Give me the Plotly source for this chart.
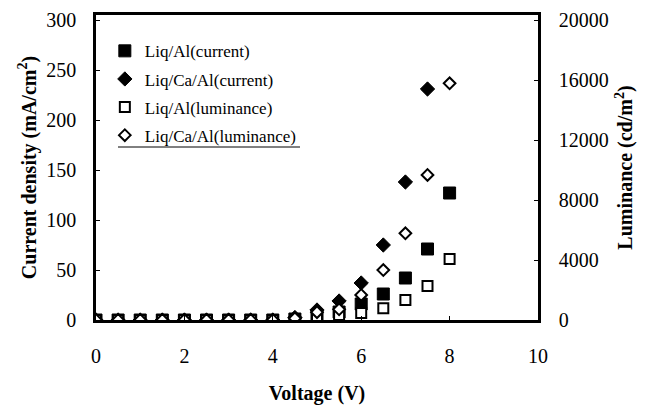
import plotly.graph_objects as go

voltage = [0, 0.5, 1, 1.5, 2, 2.5, 3, 3.5, 4, 4.5, 5, 5.5, 6, 6.5, 7, 7.5, 8]
liq_al_current = [0, 0, 0, 0, 0, 0, 0, 0, 0, 1, 4, 8, 16, 26, 42, 71, 127]
liq_ca_al_current = [0, 0, 0, 0, 0, 0, 0, 0, 0, 2.5, 10, 19, 37, 75, 138, 231]
liq_al_lum = [0, 0, 0, 0, 0, 0, 0, 0, 0, 30, 220, 330, 460, 780, 1330, 2270, 4070]
liq_ca_al_lum = [0, 0, 0, 0, 0, 0, 0, 0, 0, 110, 520, 710, 1670, 3330, 5780, 9670, 15780]

names = ["Liq/Al(current)", "Liq/Ca/Al(current)", "Liq/Al(luminance)", "Liq/Ca/Al(luminance)"]
x_ticks = [0, 2, 4, 6, 8, 10]
y_ticks = [0, 50, 100, 150, 200, 250, 300]
y2_ticks = [0, 4000, 8000, 12000, 16000, 20000]

FONT = "Liberation Serif"

fig = go.Figure()
fig.add_trace(go.Scatter(x=voltage[:len(liq_al_current)], y=liq_al_current, mode="markers",
                         name=names[0], legendgroup="a",
                         marker=dict(symbol="square", size=12, color="black",
                                     line=dict(color="black", width=1))))
fig.add_trace(go.Scatter(x=voltage[:len(liq_ca_al_current)], y=liq_ca_al_current, mode="markers",
                         name=names[1], legendgroup="b",
                         marker=dict(symbol="diamond", size=11, color="black",
                                     line=dict(color="black", width=1))))
fig.add_trace(go.Scatter(x=voltage[:len(liq_al_lum)], y=liq_al_lum, mode="markers",
                         name=names[2], legendgroup="c", yaxis="y2",
                         marker=dict(symbol="square", size=10, color="white",
                                     line=dict(color="black", width=2))))
fig.add_trace(go.Scatter(x=voltage[:len(liq_ca_al_lum)], y=liq_ca_al_lum, mode="markers",
                         name=names[3], legendgroup="d", yaxis="y2",
                         marker=dict(symbol="diamond", size=9, color="white",
                                     line=dict(color="black", width=2))))

axis_common = dict(showgrid=False, zeroline=False, showline=True, linecolor="black",
                   linewidth=2.5, ticks="inside", ticklen=4, tickcolor="black",
                   automargin=False,
                   tickfont=dict(family=FONT, size=20, color="black"))

fig.update_layout(
    width=649, height=415,
    margin=dict(l=96, r=111, t=15, b=95),
    paper_bgcolor="white", plot_bgcolor="white",
    font=dict(family=FONT, color="black"),
    xaxis=dict(range=[0, 10], tickvals=x_ticks, mirror=True, ticklabelstandoff=16,
               title=dict(text="<b>Voltage (V)</b>", font=dict(family=FONT, size=20), standoff=21),
               **axis_common),
    yaxis=dict(range=[0, 305], tickvals=y_ticks, ticklabelstandoff=13,
               title=dict(text="<b>Current density (mA/cm<sup>2</sup>)</b>",
                          font=dict(family=FONT, size=20), standoff=5),
               **axis_common),
    yaxis2=dict(range=[0, 20333], tickvals=y2_ticks, overlaying="y", side="right",
                tickformat="d", ticklabelstandoff=14,
                title=dict(text="<b>Luminance (cd/m<sup>2</sup>)</b>",
                           font=dict(family=FONT, size=20), standoff=11),
                **axis_common),
    legend=dict(x=0.02, y=0.94, xanchor="left", yanchor="top",
                font=dict(family=FONT, size=17, color="black"),
                bgcolor="rgba(0,0,0,0)", borderwidth=0,
                traceorder="grouped", tracegroupgap=3, itemwidth=30),
    showlegend=True,
)

fig.add_shape(type="line", xref="paper", yref="paper",
              x0=(118 - 96) / 442, x1=(300 - 96) / 442,
              y0=(320 - 147) / 305, y1=(320 - 147) / 305,
              line=dict(color="black", width=1))

fig.write_html("out.html")
